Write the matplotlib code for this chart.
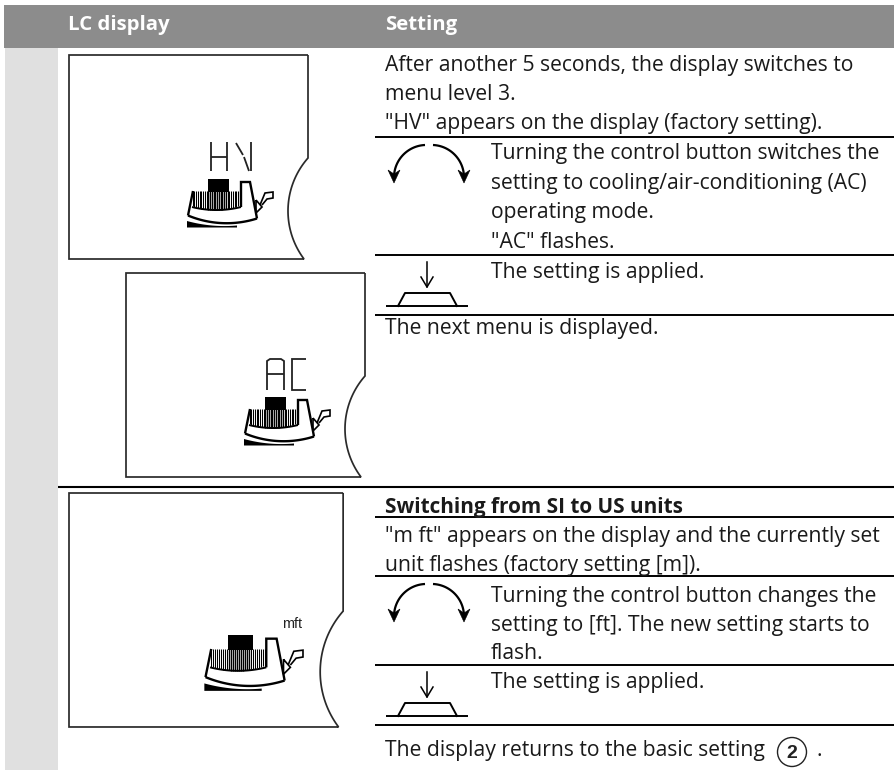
import numpy as np
import matplotlib
matplotlib.use("Agg")
import matplotlib.pyplot as plt
from matplotlib.patches import Polygon, Rectangle, Circle
from matplotlib import font_manager as fm

HEADERS = ["LC display", "Setting"]
LINES_FULL = [
    ("After another 5 seconds, the display switches to", 71),
    ("menu level 3.", 100),
    ('"HV" appears on the display (factory setting).', 129),
    ("The next menu is displayed.", 334),
    ('"m ft" appears on the display and the currently set', 542),
    ("unit flashes (factory setting [m]).", 571),
    ("The display returns to the basic setting", 756),
]
LINES_BOLD = [("Switching from SI to US units", 513)]
LINES_INDENT = [
    ("Turning the control button switches the", 159),
    ("setting to cooling/air-conditioning (AC)", 189),
    ("operating mode.", 218),
    ('"AC" flashes.', 248),
    ("The setting is applied.", 278),
    ("Turning the control button changes the", 602),
    ("setting to [ft]. The new setting starts to", 631),
    ("flash.", 659),
    ("The setting is applied.", 688),
]
RULES_Y = [137, 255, 315, 517, 576, 665, 725]

FONT = "Open Sans"
TXT = "#1a1a1a"
FS = 15.25
FS_BOLD = 14.95
FS_HEAD = 14.7
has_bold = any(f.name == FONT and (f.weight == "bold" or f.weight == 700) for f in fm.fontManager.ttflist)
BOLD_FONT = FONT if has_bold else "Lato"

fig = plt.figure(figsize=(8.94, 7.70), dpi=100, facecolor="white")
ax = fig.add_axes([0, 0, 1, 1])
ax.set_xlim(0, 894)
ax.set_ylim(770, 0)
ax.axis("off")

ax.add_patch(Rectangle((4, 5), 890, 43, fc="#8c8c8c", ec="none", zorder=1))
ax.add_patch(Rectangle((5, 48), 53, 722, fc="#e0e0e0", ec="none", zorder=1))

for y in RULES_Y:
    ax.plot([375, 894], [y, y], color="black", lw=1.4, solid_capstyle="butt", zorder=2)
ax.plot([58, 894], [487, 487], color="black", lw=1.5, solid_capstyle="butt", zorder=2)

ax.text(68, 30, HEADERS[0], color="white", fontsize=FS_HEAD, fontweight="bold", family=BOLD_FONT, zorder=3)
ax.text(385, 30, HEADERS[1], color="white", fontsize=FS_HEAD, fontweight="bold", family=BOLD_FONT, zorder=3)
for s, y in LINES_FULL:
    ax.text(385, y, s, color=TXT, fontsize=FS, family=FONT, zorder=3)
for s, y in LINES_BOLD:
    ax.text(385, y, s, color=TXT, fontsize=FS_BOLD, fontweight="bold", family=BOLD_FONT, zorder=3)
for s, y in LINES_INDENT:
    ax.text(491, y, s, color=TXT, fontsize=FS, family=FONT, zorder=3)


def arc3(p0, p1, p2, n=80):
    ax_, ay = p0
    bx, by = p1
    cx, cy = p2
    d = 2 * (ax_ * (by - cy) + bx * (cy - ay) + cx * (ay - by))
    ux = ((ax_**2 + ay**2) * (by - cy) + (bx**2 + by**2) * (cy - ay) + (cx**2 + cy**2) * (ay - by)) / d
    uy = ((ax_**2 + ay**2) * (cx - bx) + (bx**2 + by**2) * (ax_ - cx) + (cx**2 + cy**2) * (bx - ax_)) / d
    r = np.hypot(ax_ - ux, ay - uy)
    a0 = np.arctan2(ay - uy, ax_ - ux)
    a2 = np.arctan2(cy - uy, cx - ux)
    a1 = np.arctan2(by - uy, bx - ux)
    a = np.linspace(a0, a2, n)
    for t in (a2, a2 + 2 * np.pi, a2 - 2 * np.pi):
        lo, hi = min(a0, t), max(a0, t)
        if hi - lo > 2 * np.pi:
            continue
        if any(lo <= a1 + k * 2 * np.pi <= hi for k in (-1, 0, 1)):
            a = np.linspace(a0, t, n)
            break
    return np.c_[ux + r * np.cos(a), uy + r * np.sin(a)]


def panel(dx, dy, s, glyph):
    def T(pts):
        pts = np.asarray(pts, float)
        return np.c_[dx + (pts[:, 0] - 69) * s, dy + (pts[:, 1] - 55) * s]

    def line(pts, lw=1.0, color="#222222"):
        p = T(pts)
        ax.plot(p[:, 0], p[:, 1], color=color, lw=lw, solid_capstyle="butt", solid_joinstyle="miter", zorder=4)

    notch = arc3((308, 158), (288, 211), (304, 259))
    frame = np.vstack([[(308, 55), (69, 55), (69, 259)], notch[::-1], [(308, 158), (308, 55)]])
    line(frame, lw=1.25, color="#2a2a2a")

    xs = np.arange(192.5, 240.5, 1.75)
    for i, x in enumerate(xs):
        bot = 205.5 + 4.5 * (1 - ((x - 215) / 25) ** 2)
        line([(x, 191), (x, bot)], lw=1.0 if 20 > i > 8 else 0.75, color="#000000")
    ax.add_patch(Polygon(T([(208, 179), (229, 179), (229, 191.5), (208, 191.5)]), fc="black", ec="none", zorder=5))
    up = arc3((192, 207), (214, 210), (241, 207))
    line(up, lw=1.4, color="black")
    lo = arc3((188, 215.5), (220, 223), (257, 218.5))
    line(lo, lw=1.7, color="black")
    line([(193, 191), (188, 215.5)], lw=1.7, color="black")
    line([(241, 207), (241, 182), (250, 182), (257, 218.5)], lw=1.7, color="black")
    wedge_top = arc3((187, 221), (212, 225.5), (237, 225.5))
    ax.add_patch(Polygon(T(np.vstack([wedge_top, [(237, 227.5), (187, 227.5)]])), fc="black", ec="none", zorder=5))
    line([(256, 200), (262, 207), (256, 213), (256, 200)], lw=1.2, color="black")
    line([(260, 205), (265, 193), (273, 192), (273, 198), (267, 199), (262, 205)], lw=1.2, color="black")

    g = "#222222"
    L = 1.3
    if glyph == "HV":
        line([(211, 142), (211, 171)], lw=L, color=g)
        line([(227, 142), (227, 171)], lw=L, color=g)
        line([(211, 157), (227, 157)], lw=L, color=g)
        line([(236, 143), (243, 155)], lw=L, color=g)
        line([(250.5, 142), (250.5, 171)], lw=L, color=g)
        line([(244, 157), (249, 171)], lw=L, color=g)
    elif glyph == "AC":
        line([(210, 172), (210, 143), (213, 141), (224, 141), (227, 143), (227, 172)], lw=L, color=g)
        line([(210, 156), (227, 156)], lw=L, color=g)
        line([(249, 141), (235, 141), (235, 172), (249, 172)], lw=L, color=g)


panel(69, 55, 1.0, "HV")
panel(126, 273, 1.0, "AC")
panel(69, 493, 1.147, "")
ax.text(282, 628, "mft", fontsize=10.4, family="Liberation Sans", color="#222222", zorder=5)


def arrows(dy):
    for sign, cx in ((-1, 429), (1, 429)):
        x0, x1 = cx + sign * 4, cx + sign * 35
        p = arc3((x0, 145 + dy), (cx + sign * 26, 155 + dy), (x1, 178 + dy))
        ax.plot(p[:, 0], p[:, 1], color="black", lw=1.6, solid_capstyle="butt", zorder=4)
        head = [(x1 - 6, 170 + dy), (x1, 174 + dy), (x1 + 6, 170 + dy), (x1, 183 + dy)]
        ax.add_patch(Polygon(head, fc="black", ec="black", lw=0.4, zorder=4))


def press(dy):
    ax.plot([427, 427], [262 + dy, 287 + dy], color="black", lw=1.1, zorder=4)
    ax.plot([421, 427, 433], [277 + dy, 287 + dy, 277 + dy], color="black", lw=1.1, zorder=4)
    ax.plot([386, 468], [306 + dy, 306 + dy], color="black", lw=1.4, solid_capstyle="butt", zorder=4)
    ax.plot([398, 405, 450, 457], [306 + dy, 293 + dy, 293 + dy, 306 + dy], color="black", lw=1.4, zorder=4)


arrows(0)
arrows(439)
press(0)
press(410)

ax.add_patch(Circle((792, 752), 14.5, fc="none", ec="#222222", lw=1.0, zorder=4))
ax.text(792, 753, "2", ha="center", va="center", fontsize=14, fontweight="bold",
        family="Liberation Sans", color="#222222", zorder=5)
ax.text(816, 756, ".", color=TXT, fontsize=FS, family=FONT, zorder=3)

fig.savefig("out.png", dpi=100)
